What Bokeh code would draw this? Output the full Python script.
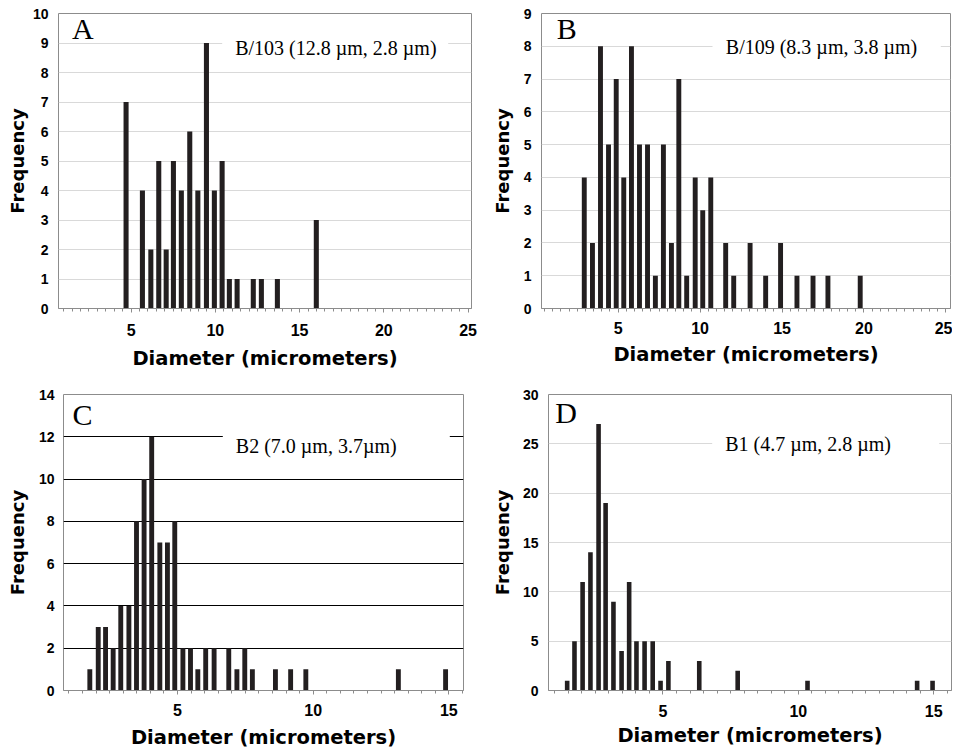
import numpy as np
from bokeh.plotting import figure
from bokeh.layouts import column, row
from bokeh.models import Range1d, FixedTicker, Label, BoxAnnotation
from bokeh.embed import file_html
from bokeh.resources import INLINE

# ---------------- data ----------------
x_title = "Diameter (micrometers)"
y_title = "Frequency"

a_letter = "A"
a_note = "B/103 (12.8 µm, 2.8 µm)"
a_diam = [4.70, 5.67, 6.17, 6.64, 7.08, 7.51, 7.98, 8.48, 8.96, 9.47, 9.94,
          10.40, 10.83, 11.29, 12.25, 12.73, 13.68, 15.99]
a_freq = [7, 4, 2, 5, 2, 5, 4, 6, 4, 9, 4, 5, 1, 1, 1, 1, 1, 3]

b_letter = "B"
b_note = "B/109 (8.3 µm, 3.8 µm)"
b_diam = [2.93, 3.43, 3.92, 4.41, 4.88, 5.34, 5.81, 6.30, 6.79, 7.27, 7.76,
          8.25, 8.70, 9.18, 9.70, 10.16, 10.65, 11.56, 12.05, 13.05, 14.00,
          14.91, 15.91, 16.89, 17.80, 19.77]
b_freq = [4, 2, 8, 5, 7, 4, 8, 5, 5, 1, 5, 2, 7, 1, 4, 3, 4, 2, 1, 2, 1, 2,
          1, 1, 1, 1]

c_letter = "C"
c_note = "B2 (7.0 µm, 3.7µm)"
c_diam = [1.77, 2.08, 2.35, 2.63, 2.91, 3.21, 3.49, 3.77, 4.05, 4.35, 4.63,
          4.90, 5.20, 5.48, 5.75, 6.04, 6.35, 6.89, 7.19, 7.48, 7.76, 8.61,
          9.17, 9.73, 13.14, 14.88]
c_freq = [1, 3, 3, 2, 4, 4, 8, 10, 12, 7, 7, 8, 2, 2, 1, 2, 2, 2, 1, 2, 1, 1,
          1, 1, 1, 1]

d_letter = "D"
d_note = "B1 (4.7 µm, 2.8 µm)"
d_diam = [1.46, 1.73, 2.03, 2.32, 2.62, 2.88, 3.17, 3.47, 3.75, 4.02, 4.32,
          4.62, 4.91, 5.20, 6.34, 7.76, 10.34, 14.39, 14.96]
d_freq = [1, 5, 11, 14, 27, 19, 9, 4, 11, 5, 5, 5, 1, 3, 3, 2, 1, 1, 1]

x_ticks_ab = [5, 10, 15, 20, 25]
x_ticks_cd = [5, 10, 15]
y_ticks_a = [0, 1, 2, 3, 4, 5, 6, 7, 8, 9, 10]
y_ticks_b = [0, 1, 2, 3, 4, 5, 6, 7, 8, 9]
y_ticks_c = [0, 2, 4, 6, 8, 10, 12, 14]
y_ticks_d = [0, 5, 10, 15, 20, 25, 30]

BAR = "#231f20"
FRAME = "#8c8c8c"
LETTER_SHIFT = 12   # observed baseline drift of the 30px labels (px)
NOTE_SHIFT = 6      # observed baseline drift of the 20px labels (px)


def make_panel(diam, freq, letter, note, xr, yr, xticks, yticks, cfg):
    W, H = cfg["size"]
    mbl, mbr, mbt, mbb = cfg["borders"]
    fw = W - mbl - mbr
    fh = H - mbt - mbb
    p = figure(width=W, height=H, output_backend="svg", toolbar_location=None,
               x_range=Range1d(*xr), y_range=Range1d(*yr),
               background_fill_color="white", border_fill_color="white")
    p.min_border_left = mbl
    p.min_border_right = mbr
    p.min_border_top = mbt
    p.min_border_bottom = mbb
    p.outline_line_color = FRAME
    p.outline_line_width = 1

    # grid
    p.xgrid.visible = False
    p.ygrid.grid_line_color = cfg["grid"]
    p.ygrid.grid_line_width = 1

    # bars
    p.vbar(x=diam, top=freq, bottom=0, width=cfg["bar_w"],
           fill_color=BAR, line_color=None)

    # x axis
    xa = p.xaxis[0]
    minor = np.arange(0.5, xr[1] + 0.01, 0.5).tolist()
    xa.ticker = FixedTicker(ticks=xticks, minor_ticks=minor)
    xa.axis_line_color = FRAME
    xa.major_tick_line_color = FRAME
    xa.minor_tick_line_color = FRAME
    xa.major_tick_in = 0
    xa.minor_tick_in = 0
    xa.major_tick_out = 4
    xa.minor_tick_out = 3
    xa.major_label_standoff = cfg["x_std"]
    xa.major_label_text_font = "Liberation Sans"
    xa.major_label_text_font_style = "bold"
    xa.major_label_text_font_size = "16px"
    xa.major_label_text_color = "black"
    xa.axis_label = x_title
    xa.axis_label_standoff = cfg["x_lstd"]
    xa.axis_label_text_font = "DejaVu Sans"
    xa.axis_label_text_font_style = "bold"
    xa.axis_label_text_font_size = "19.5px"
    xa.axis_label_text_color = "black"

    # y axis
    ya = p.yaxis[0]
    ya.ticker = FixedTicker(ticks=yticks, minor_ticks=[])
    ya.axis_line_color = None
    ya.major_tick_line_color = None
    ya.minor_tick_line_color = None
    ya.major_tick_in = 0
    ya.major_tick_out = 0
    ya.minor_tick_out = 0
    ya.major_label_standoff = cfg["y_std"]
    ya.major_label_text_font = "Liberation Sans"
    ya.major_label_text_font_style = "bold"
    ya.major_label_text_font_size = "14px"
    ya.major_label_text_color = "black"
    ya.axis_label = y_title
    ya.axis_label_standoff = cfg["y_lstd"]
    ya.axis_label_text_font = "DejaVu Sans"
    ya.axis_label_text_font_style = "bold"
    ya.axis_label_text_font_size = "18px"
    ya.axis_label_text_color = "black"

    # pixel offsets (from frame top-left) -> data coordinates
    def dx(px):
        return xr[0] + px / fw * (xr[1] - xr[0])

    def dy(py):
        return yr[1] - py / fh * (yr[1] - yr[0])

    bx0, bx1, by0, by1 = cfg["box"]
    p.add_layout(BoxAnnotation(left=dx(bx0), right=dx(bx1), top=dy(by0),
                               bottom=dy(by1), fill_color="white",
                               fill_alpha=1.0, line_color=None))
    lx, ly = cfg["letter"]
    p.add_layout(Label(x=dx(lx), y=dy(ly - LETTER_SHIFT), text=letter,
                       text_font="Liberation Serif", text_font_size="30px",
                       text_color="black", text_align="left",
                       text_baseline="alphabetic"))
    nx, ny = cfg["note"]
    p.add_layout(Label(x=dx(nx), y=dy(ny - NOTE_SHIFT), text=note,
                       text_font="Liberation Serif", text_font_size="20px",
                       text_color="black", text_align="left",
                       text_baseline="alphabetic"))
    return p


cfg_a = dict(size=(485, 372), borders=(58, 14, 13, 64), grid="#d9d9d9",
             bar_w=0.30, x_std=11, x_lstd=8, y_std=10, y_lstd=2,
             box=(163.7, 389.7, 17, 53), letter=(13.4, 26.7), note=(176.7, 40))
cfg_b = dict(size=(467, 372), borders=(56, 2, 13, 60), grid="#d9d9d9",
             bar_w=0.30, x_std=9, x_lstd=6, y_std=10, y_lstd=8,
             box=(171, 399.3, 20, 56), letter=(15.3, 26.7), note=(184.3, 40))
cfg_c = dict(size=(485, 380), borders=(63, 22, 20, 62), grid="black",
             bar_w=0.18, x_std=9, x_lstd=7, y_std=9, y_lstd=8,
             box=(159.3, 386.3, 33, 70), letter=(9, 31.7), note=(172.3, 57.7))
cfg_d = dict(size=(467, 380), borders=(63, 1, 22, 59), grid="#d9d9d9",
             bar_w=0.17, x_std=10, x_lstd=4, y_std=10, y_lstd=7,
             box=(163.7, 390.7, 35, 68), letter=(6.7, 29.7), note=(176.7, 55.7))

pA = make_panel(a_diam, a_freq, a_letter, a_note, (0.69, 25.2), (0, 10),
                x_ticks_ab, y_ticks_a, cfg_a)
pB = make_panel(b_diam, b_freq, b_letter, b_note, (0.32, 25.28), (0, 9),
                x_ticks_ab, y_ticks_b, cfg_b)
pC = make_panel(c_diam, c_freq, c_letter, c_note, (0.80, 15.54), (0, 14),
                x_ticks_cd, y_ticks_c, cfg_c)
pD = make_panel(d_diam, d_freq, d_letter, d_note, (0.77, 15.66), (0, 30),
                x_ticks_cd, y_ticks_d, cfg_d)

layout = column(row(pA, pB), row(pC, pD))
open("out.html", "w").write(file_html(layout, INLINE))
